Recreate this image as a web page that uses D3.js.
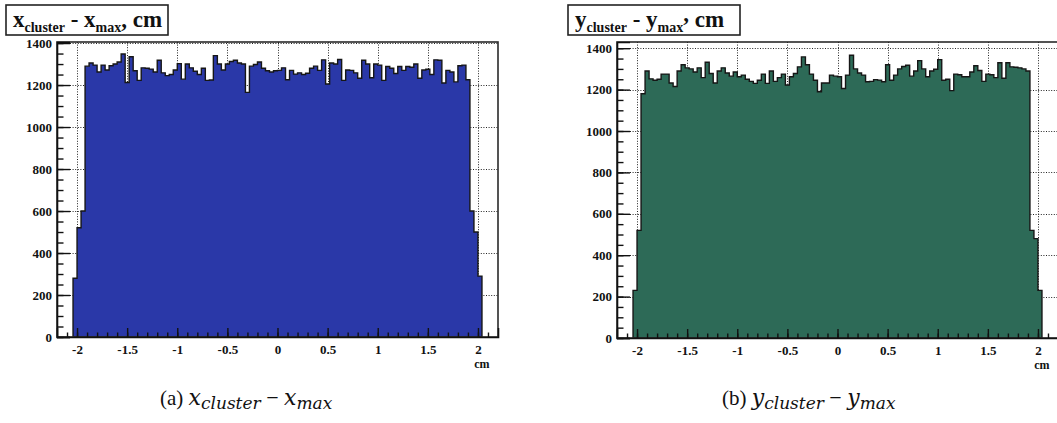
<!DOCTYPE html>
<html><head><meta charset="utf-8">
<script src="https://cdn.jsdelivr.net/npm/d3@7"></script>
<style>
html,body{margin:0;padding:0;background:#fff;}
svg{display:block;}
</style></head>
<body>
<svg id="chart" width="1057" height="423"></svg>
<script>
// ---- data ----
const binLow = -2.04, binWidth = 0.04;
const xHeadLeft = [280, 520, 600];
const xBodyLeft = [1290,1305,1295,1262,1295,1272,1292,1300,1310,1348,1212,1335,1268,1222,1282,1280,1276,1262,1318,
 1258,1245,1250,1272,1302,1228,1300,1282,1266,1250,1280,1222,1224,1340,1300,1272,1300,1312,1318,1305,1300,1165,1290,1298,1310,1280,1268,
 1262,1268,1270,1282,1225,1270,1252,1258,1250,1256,1280,1290,1270,1320,1205,1305,1300,1322,1222,1272,1270,1258,1232,1318,1300,1235,1300,1295,1222,1288,1280,1255,1288,1270,1288,1285,1300,1232,1272,1275,1250,1320,1318,1210,1270,1262,1215,1292,1295,1225];
const xTailLeft = [600, 500, 290];
const yHeadRight = [230, 520, 1180];
const yBodyRight = [1290,1252,1245,1250,1275,1275,1232,1215,1290,1320,1305,1300,1285,1305,1258,1332,1278,1232,1290,1305,1280,1265,1285,1262,1270,1250,1240,1230,1245,1275,1230,1290,1240,1258,1275,1222,1262,1278,1310,1358,1320,1275,1245,1190,1232,1232,1270,
 1265,1262,1205,1270,1366,1300,1280,1270,1238,1240,1248,1246,1238,1320,1245,1270,1300,1312,1318,1265,1290,1340,1300,1262,1290,1298,1345,1245,1250,1195,1275,1272,1262,1262,1285,1315,1292,1240,1275,1272,1258,1330,1255,1330,1310,1308,1305,1300,1290];
const yTailRight = [520, 480, 230];
const xTickValues = [-2, -1.5, -1, -0.5, 0, 0.5, 1, 1.5, 2];
const xTickLabels = ["-2", "-1.5", "-1", "-0.5", "0", "0.5", "1", "1.5", "2"];
const yTickValues = [0, 200, 400, 600, 800, 1000, 1200, 1400];
const xMinorValues = d3.range(-21, 22).map(d => d / 10);
const yMinorValues = d3.range(0, 1401, 50);

const svg = d3.select("#chart");
const serif = "Liberation Serif, DejaVu Serif, serif";
const mathSerif = "DejaVu Serif, Liberation Serif, serif";

function drawPanel(o) {
  const counts = o.counts;
  const x = d3.scaleLinear().domain([-2.2, 2.2]).range([o.left, o.right]);
  const y = d3.scaleLinear().domain([0, o.ymax]).range([o.bottom, o.top]);
  const g = svg.append("g");

  // grid
  const grid = g.append("g").attr("stroke", "#222").attr("stroke-width", 1).attr("stroke-dasharray", "1,1.6");
  grid.selectAll("line.vx").data(xTickValues).join("line")
    .attr("x1", d => Math.round(x(d)) + 0.5).attr("x2", d => Math.round(x(d)) + 0.5)
    .attr("y1", o.top).attr("y2", o.bottom);
  grid.selectAll("line.hy").data(yTickValues.filter(v => v > 0)).join("line")
    .attr("y1", d => Math.round(y(d)) + 0.5).attr("y2", d => Math.round(y(d)) + 0.5)
    .attr("x1", o.left).attr("x2", o.right);

  // histogram step path
  let p = d3.path();
  p.moveTo(x(binLow), y(0));
  counts.forEach((c, i) => {
    const x0 = x(binLow + i * binWidth), x1 = x(binLow + (i + 1) * binWidth);
    p.lineTo(x0, y(c));
    p.lineTo(x1, y(c));
  });
  p.lineTo(x(binLow + counts.length * binWidth), y(0));
  p.closePath();
  g.append("path").attr("d", p.toString()).attr("fill", o.fill)
    .attr("stroke", "#161616").attr("stroke-width", 1.4).attr("stroke-linejoin", "miter");

  // frame
  g.append("rect").attr("x", o.left).attr("y", o.top).attr("width", o.right - o.left).attr("height", o.bottom - o.top)
    .attr("fill", "none").attr("stroke", "#2a2a2a").attr("stroke-width", 1.6);

  // y axis
  g.append("g").attr("transform", `translate(${o.left},0)`)
    .call(d3.axisLeft(y).tickValues(yTickValues).tickSize(-13).tickPadding(5).tickFormat(d3.format("d")));
  g.append("g").attr("transform", `translate(${o.left},0)`)
    .call(d3.axisLeft(y).tickValues(yMinorValues).tickSize(-6.5).tickFormat(""))
    .call(s => s.select(".domain").remove());
  // x axis
  g.append("g").attr("transform", `translate(0,${o.bottom})`)
    .call(d3.axisBottom(x).tickValues(xTickValues).tickSize(-9).tickPadding(8).tickFormat((d, i) => xTickLabels[i]));
  g.append("g").attr("transform", `translate(0,${o.bottom})`)
    .call(d3.axisBottom(x).tickValues(xMinorValues).tickSize(-4.5).tickFormat(""))
    .call(s => s.select(".domain").remove());
  g.selectAll(".domain").attr("stroke", "#111").attr("stroke-width", 1.6);
  g.selectAll(".tick line").attr("stroke", "#111").attr("stroke-width", 1.4);
  g.selectAll("g").attr("font-family", serif);
  g.selectAll(".tick text").style("font-family", serif).attr("font-weight", "bold")
    .attr("font-size", 13).attr("fill", "#111");

  // unit label
  g.append("text").attr("x", x(2.0) + 4).attr("y", o.bottom + 31).style("font-family", serif)
    .attr("font-weight", "bold").attr("font-size", 12).attr("fill", "#111").attr("text-anchor", "middle").text("cm");

  // title box
  g.append("rect").attr("x", o.box[0]).attr("y", 5).attr("width", o.box[1] - o.box[0]).attr("height", 30)
    .attr("fill", "#fff").attr("stroke", "#222").attr("stroke-width", 1.6);
  const t = g.append("text").attr("x", o.box[0] + 7).attr("y", 27).style("font-family", serif)
    .attr("font-weight", "bold").attr("font-size", 23).attr("fill", "#111");
  t.append("tspan").text(o.v);
  t.append("tspan").attr("font-size", 14).attr("dy", 5).text("cluster");
  t.append("tspan").attr("dy", -5).text(" - " + o.v);
  t.append("tspan").attr("font-size", 14).attr("dy", 5).text("max");
  t.append("tspan").attr("dy", o.commaRaise ? -11 : -5).text(",");
  t.append("tspan").attr("dy", o.commaRaise ? 6 : 0).text(" cm");

  // caption
  const c = g.append("text").attr("x", o.capX).attr("y", 405).style("font-family", serif)
    .attr("font-size", 21).attr("fill", "#111");
  c.append("tspan").text("(" + o.tag + ") ");
  c.append("tspan").style("font-family", mathSerif).attr("font-style", "italic").attr("font-size", 22).text(o.v);
  c.append("tspan").style("font-family", mathSerif).attr("font-style", "italic").attr("font-size", 17).attr("dy", 4).text("cluster");
  c.append("tspan").attr("dy", -4).attr("font-size", 22).text(" \u2212 ");
  c.append("tspan").style("font-family", mathSerif).attr("font-style", "italic").attr("font-size", 22).text(o.v);
  c.append("tspan").style("font-family", mathSerif).attr("font-style", "italic").attr("font-size", 17).attr("dy", 4).text("max");
}

drawPanel({left: 57, right: 498, top: 42, bottom: 337, ymax: 1405, fill: "#2a38a8",
  counts: xHeadLeft.concat(xBodyLeft, xTailLeft), v: "x", box: [6, 168], capX: 160, tag: "a", commaRaise: false});
drawPanel({left: 617, right: 1058, top: 42, bottom: 338, ymax: 1430, fill: "#2d6a57",
  counts: yHeadRight.concat(yBodyRight, yTailRight), v: "y", box: [568, 740], capX: 722, tag: "b", commaRaise: true});
</script>
</body></html>
